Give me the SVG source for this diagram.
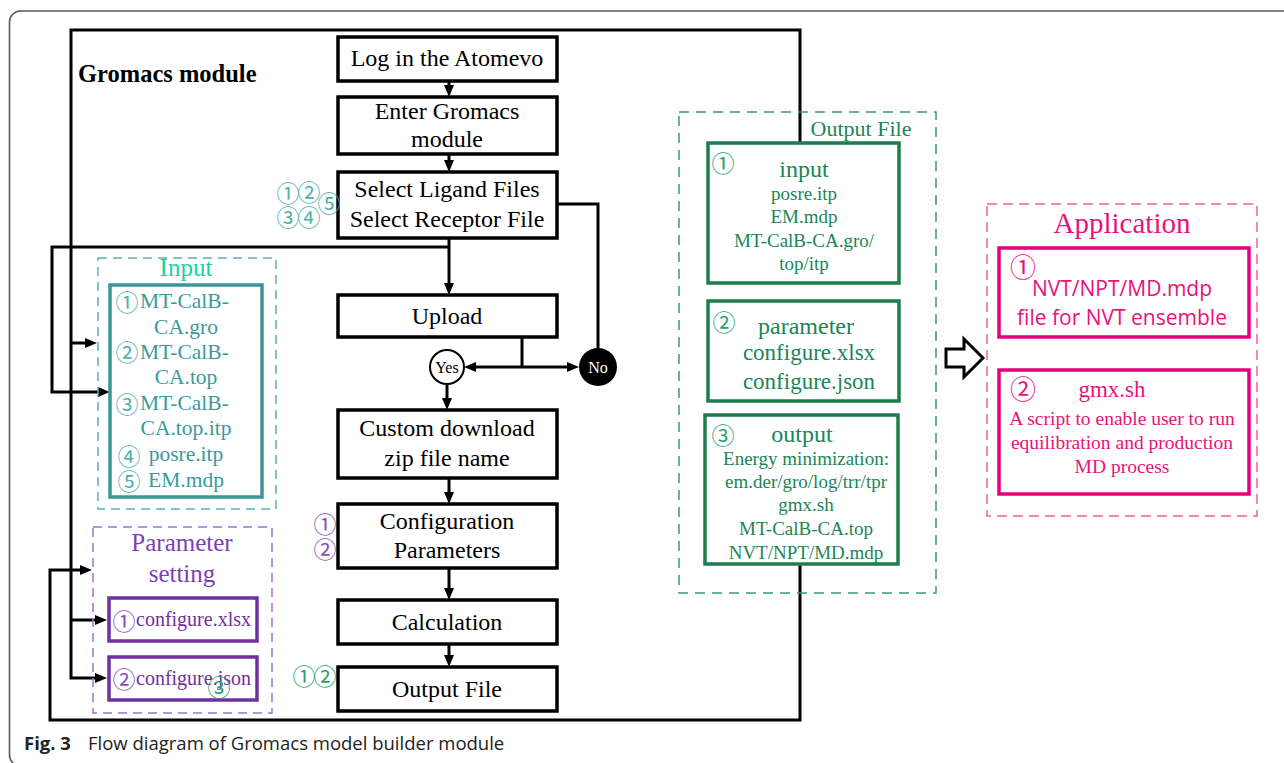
<svg xmlns="http://www.w3.org/2000/svg" width="1284" height="763" viewBox="0 0 1284 763">
<defs>
<marker id="ah" viewBox="0 0 12 10" refX="4" refY="5" markerWidth="12" markerHeight="10" markerUnits="userSpaceOnUse" orient="auto">
<path d="M0,0 L12,5 L0,10 z" fill="#000"/>
</marker>
<style>
.frame{fill:none;stroke:#5a5a5a;stroke-width:1.6}
.box{fill:#fff;stroke:#000;stroke-width:3.5}
.ln{fill:none;stroke:#000;stroke-width:3}
.ser{font-family:"Liberation Serif","Times New Roman",serif}
.ft{font-family:"Liberation Serif","Times New Roman",serif;font-size:24px;fill:#000;text-anchor:middle}
.cn{font-family:"Noto Sans CJK SC","DejaVu Sans",sans-serif;text-anchor:middle;dominant-baseline:central;font-size:23px}
.teal{fill:#3a9b9b}
.tealc{fill:#4fb0b0}
.purp{fill:#7030a0}
.purpc{fill:#8a4cc0}
.grn{fill:#1a8656}
.grnc{fill:#2aa070}
.pink{fill:#e8137a}
.mid{text-anchor:middle}
</style>
</defs>

<rect class="frame" x="9.5" y="11" width="1400" height="755" rx="11"/>

<text x="78" y="82" class="ser" font-size="24.5" font-weight="bold" fill="#000">Gromacs module</text>

<g id="connectors">
<path class="ln" d="M449,81 V89" marker-end="url(#ah)"/>
<path class="ln" d="M449,154 V164" marker-end="url(#ah)"/>
<path class="ln" d="M449,238 V287" marker-end="url(#ah)"/>
<path class="ln" d="M449,247 H52 V392 H102" marker-end="url(#ah)"/>
<path class="ln" d="M557,204 H598 V348"/>
<path class="ln" d="M522,337 V367"/>
<path class="ln" d="M522,367 H472" marker-end="url(#ah)"/>
<path class="ln" d="M522,367 H571" marker-end="url(#ah)"/>
<path class="ln" d="M447,384 V402" marker-end="url(#ah)"/>
<path class="ln" d="M449,478 V496" marker-end="url(#ah)"/>
<path class="ln" d="M449,568 V592" marker-end="url(#ah)"/>
<path class="ln" d="M449,644 V659" marker-end="url(#ah)"/>
<path class="ln" d="M800,143 V30 H71 V678 H99" marker-end="url(#ah)"/>
<path class="ln" d="M71,343 H89" marker-end="url(#ah)"/>
<path class="ln" d="M71,620 H99" marker-end="url(#ah)"/>
<path class="ln" d="M800,564 V720 H50 V570 H84" marker-end="url(#ah)"/>
<path d="M946,349 H964 V339 L983,358 L964,377 V367 H946 Z" fill="#fff" stroke="#000" stroke-width="3" stroke-linejoin="miter"/>
</g>

<g id="n-login">
<rect class="box" x="338" y="37" width="219" height="44"/>
<text class="ft" x="447" y="66">Log in the Atomevo</text>
</g>
<g id="n-enter">
<rect class="box" x="338" y="97" width="219" height="57"/>
<text class="ft" x="447" y="119">Enter Gromacs</text>
<text class="ft" x="447" y="147">module</text>
</g>
<g id="n-select">
<rect class="box" x="338" y="172" width="219" height="66"/>
<text class="ft" x="447" y="197">Select Ligand Files</text>
<text class="ft" x="447" y="227">Select Receptor File</text>
<text class="cn tealc" x="288" y="192">①</text>
<text class="cn tealc" x="309" y="191">②</text>
<text class="cn tealc" x="329" y="202">⑤</text>
<text class="cn tealc" x="288" y="216">③</text>
<text class="cn tealc" x="309" y="216">④</text>
</g>
<g id="n-upload">
<rect class="box" x="338" y="295" width="219" height="42"/>
<text class="ft" x="447" y="324">Upload</text>
</g>
<g id="n-yes">
<circle cx="447" cy="367" r="17" fill="#fff" stroke="#000" stroke-width="2"/>
<text class="ser" x="447" y="373" font-size="16" text-anchor="middle" fill="#000">Yes</text>
</g>
<g id="n-no">
<circle cx="598" cy="367" r="19" fill="#000"/>
<text class="ser" x="598" y="373" font-size="16" text-anchor="middle" fill="#fff">No</text>
</g>
<g id="n-custom">
<rect class="box" x="338" y="410" width="219" height="68"/>
<text class="ft" x="447" y="436">Custom download</text>
<text class="ft" x="447" y="466">zip file name</text>
</g>
<g id="n-config">
<rect class="box" x="338" y="504" width="219" height="64"/>
<text class="ft" x="447" y="529">Configuration</text>
<text class="ft" x="447" y="558">Parameters</text>
<text class="cn purpc" x="325" y="523">①</text>
<text class="cn purpc" x="325" y="548">②</text>
</g>
<g id="n-calc">
<rect class="box" x="338" y="600" width="219" height="44"/>
<text class="ft" x="447" y="630">Calculation</text>
</g>
<g id="n-output">
<rect class="box" x="338" y="667" width="219" height="44"/>
<text class="ft" x="447" y="697">Output File</text>
<text class="cn grnc" x="304" y="675">①</text>
<text class="cn grnc" x="325" y="675">②</text>
</g>

<g id="n-input">
<rect x="98" y="258" width="178" height="251" fill="none" stroke="#5ab3b3" stroke-width="1.5" stroke-dasharray="9,6"/>
<text class="ser mid" x="186" y="276" font-size="25" fill="#1ad39c">Input</text>
<rect x="110" y="285" width="152" height="212" fill="none" stroke="#3a9797" stroke-width="3.5"/>
<g class="ser teal" font-size="21.5">
<text x="140" y="308">MT-CalB-</text>
<text x="186" y="334" text-anchor="middle">CA.gro</text>
<text x="140" y="359">MT-CalB-</text>
<text x="186" y="384" text-anchor="middle">CA.top</text>
<text x="140" y="410">MT-CalB-</text>
<text x="186" y="435" text-anchor="middle">CA.top.itp</text>
<text x="186" y="461" text-anchor="middle">posre.itp</text>
<text x="186" y="487" text-anchor="middle">EM.mdp</text>
</g>
<text class="cn tealc" x="127" y="301">①</text>
<text class="cn tealc" x="127" y="351">②</text>
<text class="cn tealc" x="127" y="403">③</text>
<text class="cn tealc" x="129" y="455">④</text>
<text class="cn tealc" x="129" y="480">⑤</text>
</g>

<g id="n-param">
<rect x="93" y="527" width="179" height="186" fill="none" stroke="#a070d0" stroke-width="1.5" stroke-dasharray="9,6"/>
<text class="ser mid" x="182" y="551" font-size="25" fill="#7b3fb5">Parameter</text>
<text class="ser mid" x="182" y="582" font-size="25" fill="#7b3fb5">setting</text>
<rect x="109" y="598" width="148" height="43" fill="none" stroke="#7030a0" stroke-width="3.5"/>
<rect x="109" y="657" width="148" height="43" fill="none" stroke="#7030a0" stroke-width="3.5"/>
<text class="ser purp" x="136" y="626" font-size="20">configure.xlsx</text>
<text class="ser purp" x="136" y="685" font-size="20">configure.json</text>
<text class="cn purpc" x="124" y="620">①</text>
<text class="cn purpc" x="124" y="678">②</text>
<text class="cn grnc" x="219" y="686">③</text>
</g>

<g id="n-outputfile">
<rect x="679" y="112" width="257" height="481" fill="none" stroke="#3a9a70" stroke-width="1.5" stroke-dasharray="10,7"/>
<text class="ser grn" x="861" y="136" font-size="22" text-anchor="middle">Output File</text>
<rect x="708" y="143" width="191" height="140" fill="#fff" stroke="#1e7d4f" stroke-width="3.5"/>
<text class="cn grnc" x="723" y="162">①</text>
<g class="ser grn" text-anchor="middle">
<text x="804" y="177" font-size="24">input</text>
<text x="804" y="200" font-size="19">posre.itp</text>
<text x="804" y="223" font-size="19">EM.mdp</text>
<text x="804" y="247" font-size="19">MT-CalB-CA.gro/</text>
<text x="804" y="270" font-size="19">top/itp</text>
</g>
<rect x="708" y="301" width="191" height="100" fill="#fff" stroke="#1e7d4f" stroke-width="3.5"/>
<text class="cn grnc" x="724" y="321">②</text>
<g class="ser grn" text-anchor="middle">
<text x="806" y="334" font-size="24">parameter</text>
<text x="809" y="360" font-size="23">configure.xlsx</text>
<text x="809" y="389" font-size="23">configure.json</text>
</g>
<rect x="705" y="415" width="193" height="149" fill="#fff" stroke="#1e7d4f" stroke-width="3.5"/>
<text class="cn grnc" x="723" y="434">③</text>
<g class="ser grn" text-anchor="middle">
<text x="802" y="442" font-size="24">output</text>
<text x="806" y="465" font-size="19">Energy minimization:</text>
<text x="806" y="488" font-size="19">em.der/gro/log/trr/tpr</text>
<text x="806" y="511" font-size="19">gmx.sh</text>
<text x="806" y="535" font-size="19">MT-CalB-CA.top</text>
<text x="806" y="559" font-size="19">NVT/NPT/MD.mdp</text>
</g>
</g>

<g id="n-application">
<rect x="987" y="204" width="270" height="312" fill="none" stroke="#f0609e" stroke-width="1.5" stroke-dasharray="10,6"/>
<text class="ser pink" x="1122" y="233" font-size="29" text-anchor="middle">Application</text>
<rect x="999" y="248" width="250" height="89" fill="#fff" stroke="#e6007e" stroke-width="3.5"/>
<text class="cn pink" x="1023" y="265" style="font-size:26px">①</text>
<text x="1122" y="296" font-family="'Open Sans','Liberation Sans',sans-serif" font-size="21" class="pink" text-anchor="middle">NVT/NPT/MD.mdp</text>
<text x="1122" y="325" font-family="'Open Sans','Liberation Sans',sans-serif" font-size="21" class="pink" text-anchor="middle">file for NVT ensemble</text>
<rect x="999" y="370" width="250" height="124" fill="#fff" stroke="#e6007e" stroke-width="3.5"/>
<text class="cn pink" x="1023" y="387" style="font-size:26px">②</text>
<g class="ser pink" text-anchor="middle">
<text x="1112" y="397" font-size="23">gmx.sh</text>
<text x="1122" y="425" font-size="19.5">A script to enable user to run</text>
<text x="1122" y="449" font-size="19.5">equilibration and production</text>
<text x="1122" y="473" font-size="19.5">MD process</text>
</g>
</g>

<text x="24" y="750" font-family="'Open Sans','Noto Sans',sans-serif" font-size="18.5" fill="#222"><tspan font-weight="bold">Fig. 3</tspan><tspan x="88">Flow diagram of Gromacs model builder module</tspan></text>
</svg>
